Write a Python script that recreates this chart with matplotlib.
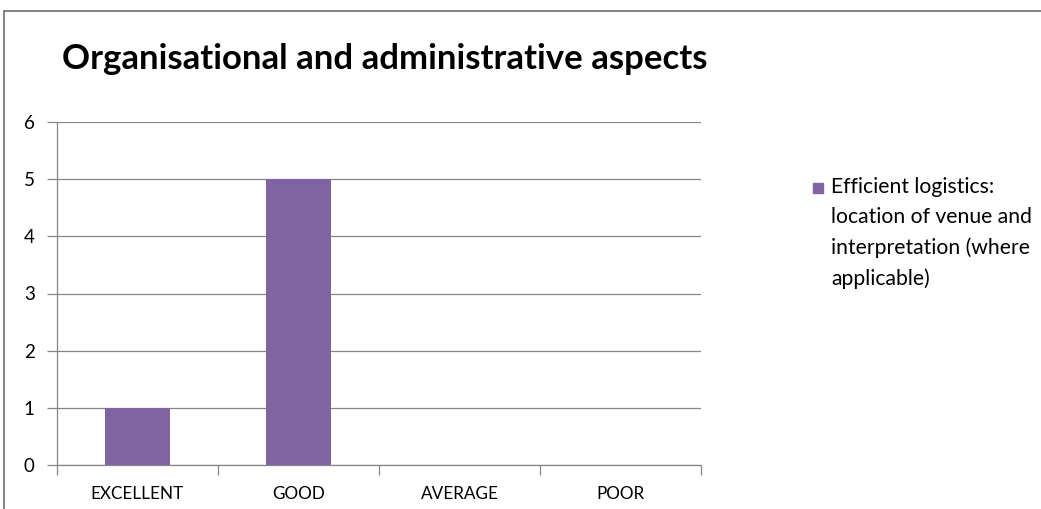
import matplotlib
matplotlib.use('Agg')
import matplotlib.pyplot as plt
from matplotlib.patches import Rectangle

categories = ['EXCELLENT', 'GOOD', 'AVERAGE', 'POOR']
counts = [1, 5, 0, 0]
series_name = 'Efficient logistics:\nlocation of venue and\ninterpretation (where\napplicable)'
title = 'Organisational and administrative aspects'
bar_color = '#8064A2'

plt.rcParams['font.family'] = ['Lato', 'DejaVu Sans']

W, H = 1041, 509
fig = plt.figure(figsize=(W / 100, H / 100), dpi=100)

# chart frame, clipped by the right and bottom edges
fig.patches.append(Rectangle((4 / W, -0.1), 1.2, (H - 11) / H + 0.1,
                             transform=fig.transFigure, fill=False,
                             edgecolor='#868686', linewidth=1.5))

ax = fig.add_axes([57 / W, (H - 465) / H, (701 - 57) / W, (465 - 122) / H])
grid_c = '#868686'
x = range(len(categories))
ax.bar(x, counts, width=0.4, color=bar_color, zorder=3)

ax.set_xlim(-0.5, len(categories) - 0.5)
ax.set_ylim(0, 6)
ax.set_yticks(range(0, 7))
ax.yaxis.grid(True, color=grid_c, linewidth=0.9)
ax.set_axisbelow(True)

for s in ['top', 'right']:
    ax.spines[s].set_visible(False)
for s in ['left', 'bottom']:
    ax.spines[s].set_color(grid_c)
    ax.spines[s].set_linewidth(0.9)

ax.set_xticks([i - 0.5 for i in range(len(categories) + 1)], minor=False)
ax.set_xticklabels([])
ax.tick_params(axis='x', which='major', length=7, color=grid_c, width=0.9)
ax.set_xticks(list(x), minor=True)
ax.set_xticklabels(categories, minor=True, fontsize=12.3)
ax.tick_params(axis='x', which='minor', length=0, pad=15)
ax.tick_params(axis='y', length=7, color=grid_c, width=0.9, labelsize=13.5, pad=9)

fig.text(62 / W, 1 - 59 / H, title, fontsize=25, fontweight='bold',
         ha='left', va='center')

# legend: swatch beside the first line of the series name
fig.patches.append(Rectangle((813 / W, 1 - 193 / H), 10 / W, 10 / H,
                             transform=fig.transFigure, color=bar_color))
fig.text(831 / W, 1 - 177 / H, series_name, fontsize=15.2, ha='left', va='top',
         linespacing=1.62)

fig.savefig('out.png', dpi=100)
